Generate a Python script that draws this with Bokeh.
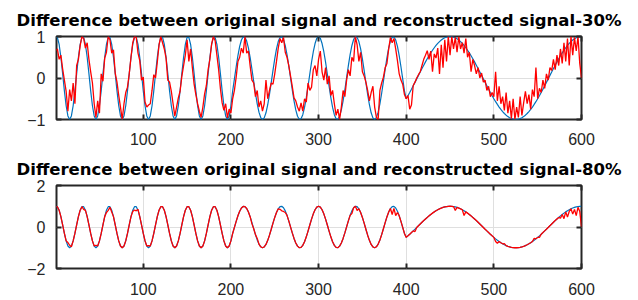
from bokeh.plotting import figure
from bokeh.layouts import column
from bokeh.models import FixedTicker, LinearAxis, Range1d, ColumnDataSource
from bokeh.embed import file_html
from bokeh.resources import INLINE

# sample positions (every 2 samples)
x_vals = list(range(0, 601, 2))

# original signal (blue)
original = [
    0.978, 0.978, 0.809, 0.5, 0.105, -0.309, -0.669, -0.914, -1.0, -0.914, -0.669, -0.309, 0.105, 0.5, 0.809,
    0.978, 0.978, 0.809, 0.5, 0.105, -0.309, -0.669, -0.914, -1.0, -0.914, -0.669, -0.309, 0.105, 0.5, 0.809,
    0.978, 0.978, 0.809, 0.5, 0.105, -0.309, -0.669, -0.914, -1.0, -0.914, -0.669, -0.309, 0.105, 0.5, 0.809,
    0.978, 0.978, 0.809, 0.5, 0.105, -0.309, -0.669, -0.914, -1.0, -0.914, -0.669, -0.309, 0.105, 0.5, 0.809,
    0.978, 0.978, 0.809, 0.5, 0.105, -0.309, -0.669, -0.914, -1.0, -0.914, -0.669, -0.309, 0.105, 0.5, 0.809,
    0.978, 0.978, 0.809, 0.5, 0.105, -0.309, -0.669, -0.914, -1.0, -0.914, -0.669, -0.309, 0.105, 0.5, 0.809,
    0.978, 0.978, 0.809, 0.5, 0.105, -0.309, -0.669, -0.914, -1.0, -0.914, -0.669,
    -0.311, -0.021, 0.271, 0.539, 0.760, 0.916, 0.993, 0.984, 0.890, 0.719,
    0.486, 0.211, -0.082, -0.368, -0.623, -0.823, -0.953, -1.0, -0.961, -0.839,
    -0.644, -0.394, -0.110, 0.184, 0.462, 0.700, 0.877, 0.979, 0.996, 0.927,
    0.778, 0.562, 0.297, 0.007, -0.284, -0.550, -0.769, -0.922, -0.995, -0.982,
    -0.884, -0.710, -0.474, -0.198, 0.096, 0.381, 0.633, 0.831, 0.957, 1.0,
    0.957, 0.831, 0.633, 0.381, 0.096, -0.198, -0.474, -0.710, -0.884, -0.982,
    -0.995, -0.922, -0.769, -0.550, -0.284, 0.007, 0.297, 0.562, 0.778, 0.927,
    0.996, 0.979, 0.877, 0.700, 0.462, 0.184, -0.110, -0.394, -0.644, -0.839,
    -0.961, -1.0, -0.953, -0.823, -0.623, -0.368, -0.082, 0.211, 0.486, 0.719,
    0.890, 0.984, 0.993, 0.916, 0.760, 0.539, 0.271, -0.021, -0.311,
    -0.5, -0.426, -0.349, -0.269, -0.187, -0.105, -0.021, 0.063, 0.146, 0.228,
    0.309, 0.388, 0.463, 0.536, 0.605, 0.669, 0.729, 0.784, 0.833, 0.876,
    0.914, 0.944, 0.969, 0.986, 0.996, 1.0, 0.996, 0.986, 0.969, 0.944,
    0.914, 0.876, 0.833, 0.784, 0.729, 0.669, 0.605, 0.536, 0.463, 0.388,
    0.309, 0.228, 0.146, 0.063, -0.021, -0.105, -0.187, -0.269, -0.349, -0.426,
    -0.5, -0.571, -0.637, -0.700, -0.757, -0.809, -0.855, -0.896, -0.930, -0.957,
    -0.978, -0.992, -0.999, -0.999, -0.992, -0.978, -0.957, -0.930, -0.896, -0.855,
    -0.809, -0.757, -0.700, -0.637, -0.571, -0.5, -0.426, -0.349, -0.269, -0.187,
    -0.105, -0.021, 0.063, 0.146, 0.228, 0.309, 0.388, 0.463, 0.536, 0.605,
    0.669, 0.729, 0.784, 0.833, 0.876, 0.914, 0.944, 0.969, 0.986, 0.996,
    1.0,
]

# reconstruction with 30% samples (red, top)
recon_30 = [
    0.66, 0.70, 0.45, 0.55, 0.22, -0.05, -0.32, -0.80, -0.28, -0.55,
    -0.12, -0.62, 0.30, 0.45, 0.78, 1.0, 0.95, 0.72, 0.85, 0.45,
    0.15, -0.12, -0.62, -0.95, -0.55, -0.85, 0.10, -0.08, 0.48, 0.62,
    1.0, 0.92, 0.60, 0.68, 0.12, -0.10, -0.42, -0.70, -1.0, -0.62,
    -0.35, -0.22, 0.10, 0.50, 0.85, 1.0, 0.98, 0.60, 0.42, -0.05,
    0.02, -0.58, -0.70, -0.65, -0.62, -0.30, 0.08, 0.00, 0.38, 0.80,
    1.0, 0.85, 0.70, 0.48, -0.05, -0.10, -0.32, -0.62, -0.92, -0.70,
    -0.48, -0.32, 0.04, 0.30, 0.55, 0.92, 0.40, 0.70, 0.25, -0.15,
    -0.40, -0.62, -0.80, -0.95, -0.70, -0.38, -0.18, 0.20, 0.45, 0.82,
    1.0, 0.90, 0.55, 0.20, -0.25, -0.60, -0.78, -0.62, -0.96, -0.75,
    -0.85, -0.50, -0.30, 0.02, 0.40, 0.50, 0.72, 0.60, 1.0, 0.60,
    0.65, 0.28, -0.05, -0.12, -0.45, -0.30, -0.70, -0.55, -0.80, -0.62,
    -0.05, -0.50, -0.30, -0.12, -0.15, 0.10, 0.40, 0.72, 0.95, 0.85,
    0.98, 0.62, 0.50, 0.30, 0.05, -0.20, -0.48, -0.55, -0.70, -0.80,
    -0.60, -0.80, -0.50, -0.58, -0.12, -0.30, -0.22, 0.20, 0.30, 0.05,
    0.45, 0.65, 0.15, -0.05, 0.25, -0.15, 0.05, -0.42, -0.30, -0.62,
    -0.90, -0.75, -1.0, -0.70, -0.30, -0.45, -0.05, 0.20, 0.05, 0.50,
    0.40, 1.0, 0.80, 0.40, 0.62, 0.15, 0.05, -0.10, -0.30, -0.55,
    -0.35, -0.20, -0.70, -0.95, -1.0, -0.30, -0.12, 0.02, 0.25, 0.35,
    0.70, 0.98, 0.85, 0.95, 0.70, 0.42, 0.10, -0.05, -0.15, -0.40,
    -0.50, -0.42, -0.75, -0.65, -0.18, -0.10, 0.00, 0.08, 0.15, 0.30,
    0.45, 0.55, 0.66, 0.45, 0.65, 0.15, 0.58, 0.48, 0.72, 0.10,
    0.80, 0.25, 0.92, 0.40, 1.0, 0.55, 1.0, 0.70, 0.98, 0.62,
    1.0, 0.70, 0.85, 0.60, 0.95, 0.50, 0.62, 0.15, 0.45, 0.30,
    0.10, 0.25, 0.00, 0.12, -0.10, -0.05, -0.30, -0.20, -0.45, -0.35,
    -0.45, 0.15, -0.55, -0.20, -0.62, -0.45, -0.78, -0.35, -0.85, -0.55,
    -0.98, -0.50, -1.0, -0.70, -0.95, -0.45, -0.90, -0.60, -0.32, -0.62,
    -0.40, -0.75, -0.28, -0.45, 0.25, -0.50, -0.25, -0.35, -0.05, -0.25,
    0.10, -0.05, 0.25, 0.18, 0.45, 0.20, 0.55, 0.30, 0.70, 0.35,
    0.85, 0.40, 0.95, 0.30, 1.0, 0.55, 0.98, 0.65, 1.0, 0.35,
    0.00,
]

# reconstruction with 80% samples (red, bottom)
recon_80 = [
    0.978, 0.978, 0.809, 0.5, 0.105, -0.309, -0.669, -0.75, -0.88, -0.95, -0.669, -0.309, 0.105, 0.5, 0.809,
    0.978, 0.85, 0.80, 0.5, 0.105, -0.309, -0.669, -0.914, -0.88, -0.914, -0.669, -0.309, 0.105, 0.5, 0.70,
    0.80, 0.95, 0.72, 0.5, 0.105, -0.309, -0.669, -0.914, -1.0, -0.914, -0.669, -0.309, 0.105, 0.5, 0.75,
    0.82, 0.78, 0.85, 0.5, 0.105, -0.309, -0.669, -0.914, -0.90, -0.914, -0.669, -0.309, 0.105, 0.5, 0.809,
    0.978, 0.978, 0.809, 0.5, 0.105, -0.309, -0.669, -0.914, -1.0, -0.914, -0.669, -0.309, 0.105, 0.5, 0.809,
    0.978, 0.978, 0.809, 0.5, 0.105, -0.309, -0.669, -0.914, -1.0, -0.914, -0.669, -0.309, 0.105, 0.5, 0.809,
    0.978, 0.978, 0.809, 0.5, 0.105, -0.309, -0.669, -0.914, -1.0, -0.914, -0.669,
    -0.311, -0.021, 0.271, 0.539, 0.760, 0.916, 0.993, 0.984, 0.890, 0.719,
    0.486, 0.15, -0.082, -0.368, -0.55, -0.823, -0.953, -1.0, -0.961, -0.839,
    -0.644, -0.394, -0.110, 0.184, 0.462, 0.700, 0.877, 0.85, 0.78, 0.75,
    0.70, 0.562, 0.297, 0.007, -0.284, -0.550, -0.769, -0.922, -0.995, -0.982,
    -0.884, -0.710, -0.474, -0.198, 0.096, 0.381, 0.633, 0.831, 0.957, 1.0,
    0.957, 0.831, 0.633, 0.381, 0.096, -0.198, -0.474, -0.710, -0.884, -0.982,
    -0.995, -0.922, -0.769, -0.550, -0.284, 0.007, 0.297, 0.562, 0.65, 0.927,
    0.996, 0.80, 0.877, 0.700, 0.462, 0.184, -0.110, -0.394, -0.644, -0.839,
    -0.961, -1.0, -0.953, -0.823, -0.623, -0.368, -0.082, 0.211, 0.486, 0.719,
    0.890, 0.60, 0.90, 0.55, 0.70, 0.539, 0.271, -0.021, -0.311,
    -0.5, -0.426, -0.349, -0.269, -0.187, -0.22, -0.021, 0.063, 0.146, 0.228,
    0.309, 0.388, 0.463, 0.536, 0.605, 0.669, 0.729, 0.784, 0.833, 0.876,
    0.914, 0.944, 0.969, 0.986, 0.996, 1.0, 0.996, 0.986, 0.80, 0.944,
    0.914, 0.876, 0.833, 0.55, 0.729, 0.669, 0.605, 0.536, 0.463, 0.388,
    0.309, 0.228, 0.146, 0.063, -0.021, -0.105, -0.187, -0.269, -0.349, -0.426,
    -0.5, -0.70, -0.78, -0.700, -0.757, -0.809, -0.80, -0.896, -0.930, -0.957,
    -0.978, -0.992, -0.999, -0.999, -0.992, -0.978, -0.957, -0.930, -0.896, -0.855,
    -0.809, -0.757, -0.700, -0.55, -0.571, -0.5, -0.50, -0.349, -0.269, -0.187,
    -0.105, -0.021, 0.063, 0.146, 0.228, 0.309, 0.388, 0.463, 0.42, 0.605,
    0.40, 0.729, 0.48, 0.75, 0.876, 0.62, 0.85, 0.55, 0.95, 0.75,
    0.0,
]

x_ticks = [100, 200, 300, 400, 500, 600]
top_titles = ["Difference between original signal and reconstructed signal-30%",
              "Difference between original signal and reconstructed signal-80%"]

FONT = "Liberation Sans"
TXT = "#262626"


def make_panel(title, ylim, yticks, recon, border_top, border_bottom, x_standoff):
    p = figure(frame_width=525, frame_height=83, output_backend="svg", toolbar_location=None,
               x_range=Range1d(1, 600), y_range=Range1d(ylim[0], ylim[1]),
               min_border_left=56, min_border_right=57,
               min_border_top=border_top, min_border_bottom=border_bottom)
    p.title.text = title
    p.title.align = "center"
    p.title.text_font = "DejaVu Sans"
    p.title.text_font_size = "16.5px"
    p.title.text_font_style = "bold"
    p.title.text_color = "#000000"
    p.title.standoff = 13

    src = ColumnDataSource(dict(x=x_vals, orig=original, rec=recon))
    p.line("x", "orig", source=src, line_color="#0072BD", line_width=1.2)
    p.line("x", "rec", source=src, line_color="#FF0000", line_width=1.3)

    p.outline_line_color = TXT
    p.outline_line_width = 2
    p.outline_line_alpha = 1

    for ax in (p.xaxis[0], p.yaxis[0]):
        ax.axis_line_color = None
        ax.major_tick_in = 5
        ax.major_tick_out = 0
        ax.major_tick_line_color = TXT
        ax.major_tick_line_width = 2
        ax.minor_tick_line_color = None
        ax.major_label_text_font = FONT
        ax.major_label_text_font_size = "16px"
        ax.major_label_text_color = TXT
    p.xaxis[0].ticker = FixedTicker(ticks=x_ticks)
    p.yaxis[0].ticker = FixedTicker(ticks=yticks)
    p.xaxis[0].major_label_standoff = x_standoff
    p.yaxis[0].major_label_standoff = 11

    top = LinearAxis(ticker=FixedTicker(ticks=x_ticks), axis_line_color=None,
                     major_tick_in=5, major_tick_out=0, major_tick_line_color=TXT,
                     major_tick_line_width=2, minor_tick_line_color=None,
                     major_label_text_font_size="1px", major_label_text_color=None,
                     major_label_standoff=0)
    right = LinearAxis(ticker=FixedTicker(ticks=yticks), axis_line_color=None,
                       major_tick_in=5, major_tick_out=0, major_tick_line_color=TXT,
                       major_tick_line_width=2, minor_tick_line_color=None,
                       major_label_text_font_size="1px", major_label_text_color=None,
                       major_label_standoff=0)
    p.add_layout(top, "above")
    p.add_layout(right, "right")

    p.xgrid.ticker = FixedTicker(ticks=x_ticks)
    p.ygrid.ticker = FixedTicker(ticks=yticks)
    p.xgrid.grid_line_color = "#dfdfdf"
    p.ygrid.grid_line_color = "#dfdfdf"
    p.background_fill_color = "white"
    p.border_fill_color = "white"
    return p


p1 = make_panel(top_titles[0], (-1, 1), [-1, 0, 1], recon_30, 36, 31, 13)
p2 = make_panel(top_titles[1], (-2, 2), [-2, 0, 2], recon_80, 35, 32, 14)

layout = column(p1, p2, spacing=0)
open("out.html", "w").write(file_html(layout, INLINE))
